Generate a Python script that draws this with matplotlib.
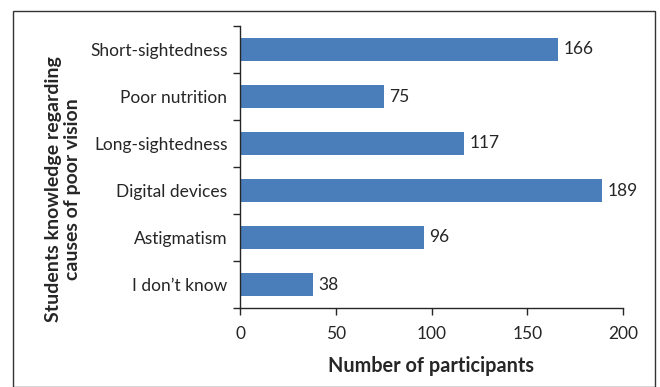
import matplotlib.pyplot as plt
from matplotlib.patches import Rectangle

plt.rcParams['font.family'] = ['Lato', 'DejaVu Sans']

causes = ["Short-sightedness", "Poor nutrition", "Long-sightedness",
          "Digital devices", "Astigmatism", "I don\u2019t know"]
counts = [166, 75, 117, 189, 96, 38]
xticks = [0, 50, 100, 150, 200]

txt = '#262626'
fig = plt.figure(figsize=(6.6, 3.87), dpi=100)
ax = fig.add_axes([240 / 660, 1 - 308 / 387, (623 - 240) / 660, (308 - 26) / 387])

ypos = list(range(len(causes)))[::-1]
ax.barh(ypos, counts, height=0.5, color='#4a7ebb')
for y, v in zip(ypos, counts):
    ax.text(v + 3, y, str(v), va='center', ha='left', fontsize=12.5, color=txt)

ax.set_xlim(0, 200)
ax.set_ylim(-0.5, len(causes) - 0.5)
ax.set_xticks(xticks)
ax.set_yticks(ypos)
ax.set_yticklabels(causes)
ax.set_yticks([i - 0.5 for i in range(len(causes) + 1)], minor=True)
ax.tick_params(axis='y', which='major', length=0, pad=9, labelsize=12.5, labelcolor=txt)
ax.tick_params(axis='y', which='minor', length=5, width=1, color='#262626')
ax.tick_params(axis='x', length=5, width=1, color='#262626', labelsize=12.5, labelcolor=txt, pad=8)
for s in ['top', 'right']:
    ax.spines[s].set_visible(False)
for s in ['left', 'bottom']:
    ax.spines[s].set_color('#262626')
    ax.spines[s].set_linewidth(1)

ax.set_xlabel("Number of participants", fontsize=14.3, fontweight='bold', color=txt, labelpad=10)
fig.text(63 / 660, 1 - 189 / 387, "Students knowledge regarding\ncauses of poor vision",
         rotation=90, ha='center', va='center', fontsize=14, fontweight='bold',
         color=txt, linespacing=1.2)

fig.patches.append(Rectangle((13 / 660, 0), (655 - 13) / 660, 1 - 11 / 387,
                             transform=fig.transFigure, fill=False,
                             edgecolor='#333333', linewidth=1))

fig.savefig('out.png', dpi=100)
